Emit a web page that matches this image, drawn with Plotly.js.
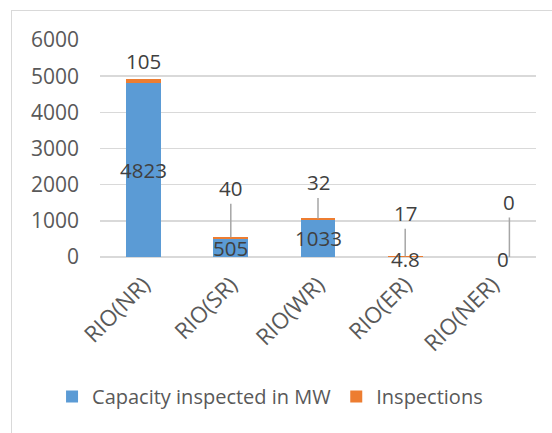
<!DOCTYPE html>
<html><head><meta charset="utf-8">
<script src="https://cdn.plot.ly/plotly-3.0.1.min.js"></script>
<style>
html,body{margin:0;padding:0;background:#fff;}
#frame{position:absolute;left:11px;top:10px;width:600px;height:500px;border:1px solid #d9d9d9;box-sizing:border-box;}
#chart{position:absolute;left:0;top:0;width:552px;height:433px;}
</style></head>
<body>
<div id="frame"></div>
<div id="chart"></div>
<script>
const categories = ["RIO(NR)", "RIO(SR)", "RIO(WR)", "RIO(ER)", "RIO(NER)"];
const capacity = [4823, 505, 1033, 4.8, 0];
const inspections = [105, 40, 32, 17, 0];
const capLabels = ["4823", "505", "1033", "4.8", "0"];
const inspLabels = ["105", "40", "32", "17", "0"];

// label placement (pixel offsets, style only)
const inspOffsetY = [null, -49, -36, -43, -55];
const inspShiftX = [0, 0, 0, 0, 17];
const capShiftX = [0, 0, 0, 0, 11];
const capShiftY = [0, 0, 0, -2, -2];

const labelFont = {family: "Open Sans, sans-serif", size: 20.5, color: "#404040"};

const traces = [
  {type: "bar", name: "Capacity inspected in MW", x: categories, y: capacity,
   marker: {color: "#5b9bd5"}, hoverinfo: "none"},
  {type: "bar", name: "Inspections", x: categories, y: inspections,
   marker: {color: "#ed7d31"}, hoverinfo: "none"}
];

const annotations = [];
categories.forEach((c, i) => {
  annotations.push({x: c, y: capacity[i] / 2, text: capLabels[i], showarrow: false,
    xref: "x", yref: "y", yanchor: "middle", xshift: capShiftX[i], yshift: capShiftY[i], font: labelFont});
  const top = capacity[i] + inspections[i];
  if (inspOffsetY[i] === null) {
    annotations.push({x: c, y: top, text: inspLabels[i], showarrow: false,
      xref: "x", yref: "y", yanchor: "bottom", yshift: 2, font: labelFont});
  } else {
    annotations.push({x: c, y: top, text: inspLabels[i], showarrow: true,
      arrowhead: 0, arrowwidth: 1.5, arrowcolor: "#a6a6a6", standoff: 0,
      ax: 0, ay: inspOffsetY[i], xshift: inspShiftX[i],
      xref: "x", yref: "y", font: labelFont});
  }
});

const layout = {
  width: 552, height: 433,
  margin: {l: 100, r: 16, t: 40, b: 176},
  paper_bgcolor: "rgba(0,0,0,0)", plot_bgcolor: "rgba(0,0,0,0)",
  barmode: "stack", bargap: 0.6,
  font: {family: "Open Sans, sans-serif", size: 20.5, color: "#595959"},
  xaxis: {tickangle: -45, ticks: "", showgrid: false, showline: false, zeroline: false, automargin: false,
          ticklabelstandoff: 9, tickfont: {size: 22.5, color: "#595959"}},
  yaxis: {range: [0, 6000], dtick: 1000, ticks: "", showline: false, automargin: false,
          gridcolor: "#d9d9d9", gridwidth: 1.5, zeroline: true, zerolinecolor: "#d9d9d9", zerolinewidth: 1.5,
          ticklabelstandoff: 20, tickfont: {size: 21, color: "#595959"}},
  legend: {orientation: "h", traceorder: "normal", xref: "paper", yref: "paper",
           x: -0.11, xanchor: "left", y: -0.553, yanchor: "top",
           font: {size: 20, color: "#595959"}, itemclick: false},
  annotations: annotations,
  showlegend: true
};

Plotly.newPlot("chart", traces, layout, {displayModeBar: false, staticPlot: true});
</script>
</body></html>
